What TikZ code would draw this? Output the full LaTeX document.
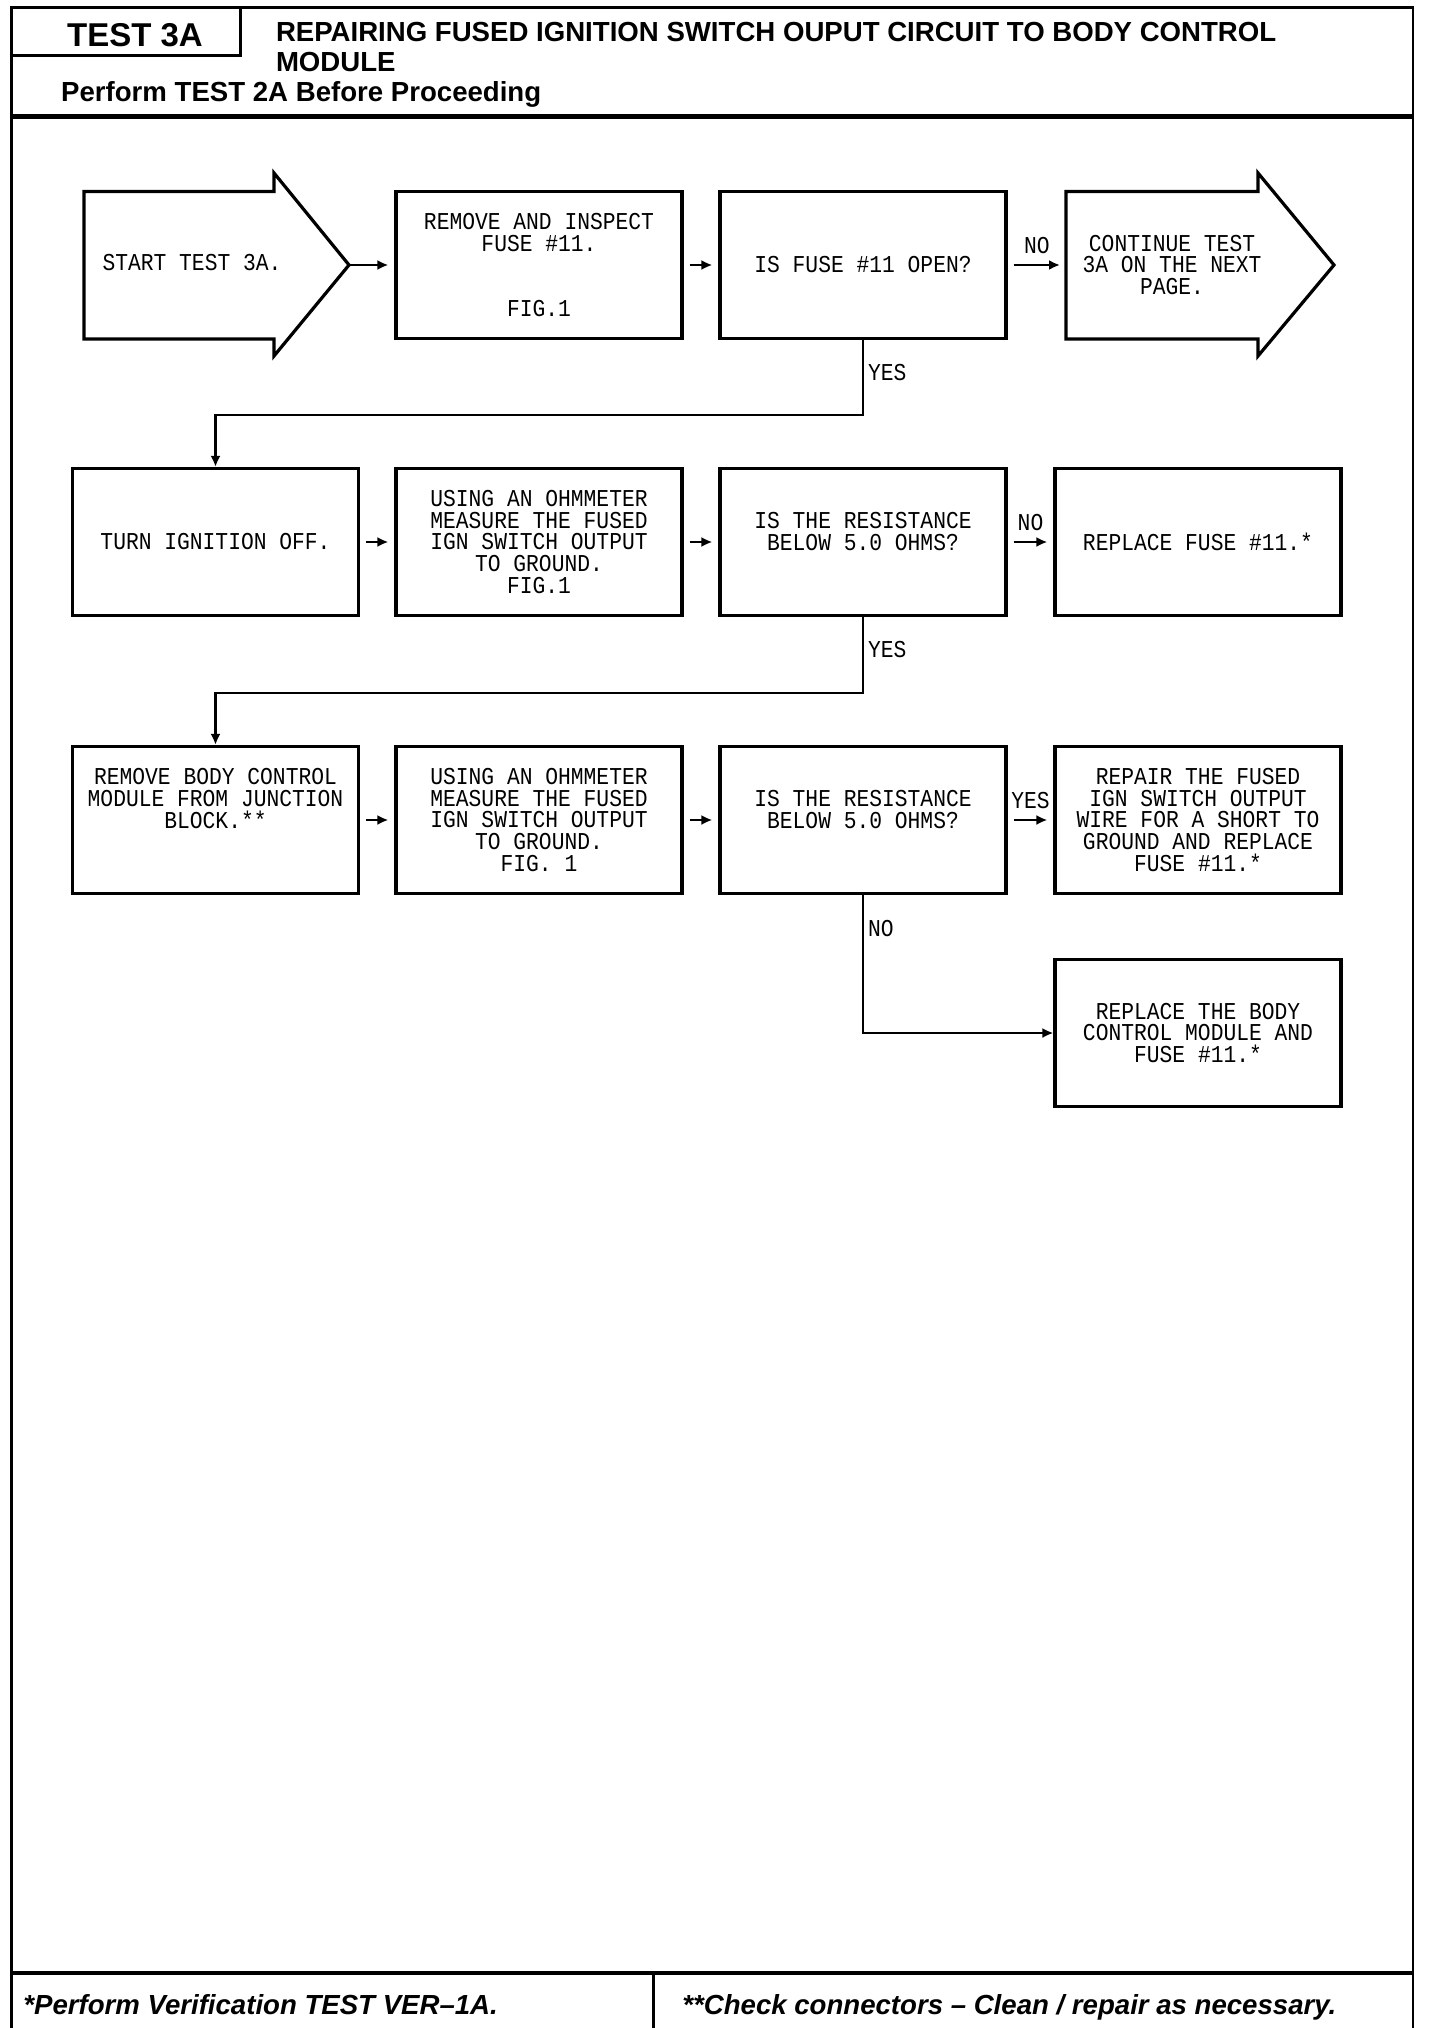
\documentclass[tikz,border=0pt]{standalone}
\usepackage{fontspec}
\setmainfont{Liberation Sans}
\newfontfamily\plotfont[FakeStretch=0.88]{Liberation Mono}
\newcommand{\boxfont}{\plotfont\fontsize{12.1}{10.8}\selectfont}
\newcommand{\headfont}{\bfseries\fontsize{13.8}{14.9}\selectfont}
\usetikzlibrary{arrows.meta}

\begin{document}
\begin{tikzpicture}[x=0.5pt, y=-0.5pt,
		box/.style={draw, line width=1.6pt, minimum width=143pt, minimum height=73.5pt, inner sep=0pt, align=center, font=\boxfont},
		conn/.style={-{Latex[length=5.5pt,width=5pt]}, line width=1.4pt, shorten <=3pt, shorten >=3pt},
		branch/.style={-{Latex[length=5.5pt,width=5pt]}, line width=1.1pt},
		lbl/.style={font=\boxfont, inner sep=2pt}]
		\useasboundingbox (0,0) rectangle (1440,2028);
		% frame and header
		\draw[line width=1.3pt] (11.6,2028) -- (11.6,7.8) -- (1413,7.8) -- (1413,2028);
		\draw[line width=1.3pt] (11.6,55.6) -| (240.6,7.8);
		\draw[line width=2.4pt] (11.6,116.4) -- (1413,116.4);
		\draw[line width=2.4pt] (11.6,1973) -- (1413,1973);
		\draw[line width=1.3pt] (653.4,1973) -- (653.4,2028);
		\node[anchor=base, inner sep=0pt, font=\bfseries\fontsize{16.5}{18}\selectfont] (testid) at (135,47) {TEST 3A};
		\node[anchor=north west, align=left, inner sep=0pt, font=\headfont] (title) at (275.6,22) {REPAIRING FUSED IGNITION SWITCH OUPUT CIRCUIT TO BODY CONTROL\\MODULE};
		\node[anchor=base west, inner sep=0pt, font=\headfont] (pretest) at (60.8,102) {Perform TEST 2A Before Proceeding};
		\node[anchor=base west, inner sep=0pt, font=\headfont\itshape] (verify) at (23,2014.5) {*Perform Verification TEST VER–1A.};
		\node[anchor=base west, inner sep=0pt, font=\headfont\itshape] (chkconn) at (682,2014.5) {**Check connectors – Clean / repair as necessary.};
		% row 1
		\draw[line width=1.6pt] (84,191.5) -- (274,191.5) -- (274,173) -- (349,265) coordinate (starttip) -- (274,356) -- (274,339) -- (84,339) -- cycle;
		\node[lbl] (starttxt) at (192,263) {START TEST 3A.};
		\node[box] (fuse) at (539,265) {REMOVE AND INSPECT\\FUSE \#11.\\[21.5pt]FIG.1};
		\node[box] (fuseopen) at (863,265) {IS FUSE \#11 OPEN?};
		\draw[line width=1.6pt] (1066,191.5) -- (1258,191.5) -- (1258,173) -- (1334,265) -- (1258,356) -- (1258,339) -- (1066,339) -- cycle;
		\coordinate (contin) at (1066,265);
		\node[lbl, align=center] (conttxt) at (1172,265) {CONTINUE TEST\\3A ON THE NEXT\\PAGE.};
		% row 2
		\node[box] (ignoff) at (215.5,542) {TURN IGNITION OFF.};
		\node[box] (meas1) at (539,542) {USING AN OHMMETER\\MEASURE THE FUSED\\IGN SWITCH OUTPUT\\TO GROUND.\\FIG.1};
		\node[box] (res1) at (863,542) {IS THE RESISTANCE\\BELOW 5.0 OHMS?\\\mbox{}};
		\node[box] (repfuse) at (1198,542) {REPLACE FUSE \#11.*};
		% row 3
		\node[box] (rembcm) at (215.5,820) {REMOVE BODY CONTROL\\MODULE FROM JUNCTION\\BLOCK.**\\\mbox{}\\\mbox{}};
		\node[box] (meas2) at (539,820) {USING AN OHMMETER\\MEASURE THE FUSED\\IGN SWITCH OUTPUT\\TO GROUND.\\FIG. 1};
		\node[box] (res2) at (863,820) {IS THE RESISTANCE\\BELOW 5.0 OHMS?\\\mbox{}};
		\node[box] (repwire) at (1198,820) {REPAIR THE FUSED\\IGN SWITCH OUTPUT\\WIRE FOR A SHORT TO\\GROUND AND REPLACE\\FUSE \#11.*};
		\node[box] (repbcm) at (1198,1033) {REPLACE THE BODY\\CONTROL MODULE AND\\FUSE \#11.*};
		% connectors
		\draw[conn, shorten <=0pt] (starttip) -- (fuse.west);
		\draw[conn] (fuse) -- (fuseopen);
		\draw[conn] (fuseopen) -- node[lbl, above=3pt] (no1) {NO} (contin);
		\draw[branch] (fuseopen.south) -- node[lbl, right, pos=.43] (yes1) {YES} ++(0,75) -| (ignoff.north);
		\draw[conn] (ignoff) -- (meas1);
		\draw[conn] (meas1) -- (res1);
		\draw[conn] (res1) -- node[lbl, above=3pt] (no2) {NO} (repfuse);
		\draw[branch] (res1.south) -- node[lbl, right, pos=.42] (yes2) {YES} ++(0,76) -| (rembcm.north);
		\draw[conn] (rembcm) -- (meas2);
		\draw[conn] (meas2) -- (res2);
		\draw[conn] (res2) -- node[lbl, above=3pt] (yes3) {YES} (repwire);
		\draw[branch] (res2.south) |- node[lbl, right, pos=.12] (no3) {NO} (repbcm.west);
	\end{tikzpicture}
\end{document}
